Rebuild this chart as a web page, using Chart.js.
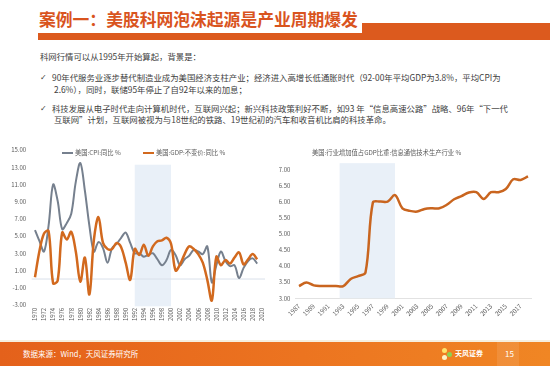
<!DOCTYPE html>
<html lang="zh-CN">
<head>
<meta charset="utf-8">
<script src="https://cdn.jsdelivr.net/npm/chart.js@4.4.1/dist/chart.umd.min.js"></script>
<style>
body{margin:0;width:550px;height:366px;overflow:hidden;background:#fff;font-family:"Noto Sans CJK SC","Noto Sans",sans-serif;position:relative;}
.abs{position:absolute;white-space:nowrap;}
#title{left:39px;top:9px;font-size:16.8px;font-weight:bold;color:#d9541e;line-height:20px;}
.bar{position:absolute;background:#dc5a1e;}
.txt{font-size:8.4px;color:#404040;line-height:11px;}
.chk{font-size:8px;color:#404040;line-height:11px;font-family:"DejaVu Sans",sans-serif;}
.lg{font-size:6.3px;color:#595959;line-height:8px;}
.lgline{position:absolute;height:2px;}
#footer{position:absolute;left:0;top:342px;width:550px;height:24px;background:linear-gradient(90deg,#e4611b,#ec7420 55%,#f08624);}
canvas{position:absolute;}
</style>
</head>
<body>
<div id="title" class="abs">案例一：美股科网泡沫起源是产业周期爆发</div>
<div class="bar" style="left:38px;top:33px;width:512px;height:7px;"></div>
<div class="bar" style="left:362px;top:23px;width:188px;height:17px;"></div>

<div class="abs txt" style="left:40px;top:51px;">科网行情可以从1995年开始算起，背景是：</div>
<div class="abs chk" style="left:40px;top:72px;">✓</div>
<div class="abs txt" style="left:52px;top:72px;">90年代服务业逐步替代制造业成为美国经济支柱产业；经济进入高增长低通胀时代（92-00年平均GDP为3.8%，平均CPI为</div>
<div class="abs txt" style="left:54px;top:84px;">2.6%），同时，联储95年停止了自92年以来的加息；</div>
<div class="abs chk" style="left:40px;top:103px;">✓</div>
<div class="abs txt" style="left:52px;top:103px;">科技发展从电子时代走向计算机时代，互联网兴起；新兴科技政策利好不断，如93 年“信息高速公路”战略、96年“下一代</div>
<div class="abs txt" style="left:54px;top:114px;">互联网”计划，互联网被视为与18世纪的铁路、19世纪初的汽车和收音机比肩的科技革命。</div>

<canvas id="leftChart" width="272" height="190" style="left:0;top:140px;"></canvas>
<canvas id="rightChart" width="278" height="190" style="left:272px;top:140px;"></canvas>

<!-- legends / title for charts -->
<div class="lgline" style="left:62px;top:152px;width:11px;background:#76808e;"></div>
<div class="abs lg" style="left:75px;top:149px;">美国:CPI:同比 %</div>
<div class="lgline" style="left:143px;top:152px;width:11px;background:#d2691e;"></div>
<div class="abs lg" style="left:156px;top:149px;">美国:GDP:不变价:同比 %</div>
<div class="abs lg" style="left:312px;top:149px;">美国:行业增加值占GDP比重:信息通信技术生产行业 %</div>

<div style="position:absolute;left:0;top:340px;width:550px;height:2px;background:#f6efdf;"></div>
<div id="footer"></div>
<div class="abs" style="left:23px;top:349px;font-size:7.5px;line-height:10px;color:#fff;">数据来源：Wind，天风证券研究所</div>
<div style="position:absolute;left:442px;top:348px;width:5px;height:5px;border-radius:50%;background:#ffe36a;"></div>
<div style="position:absolute;left:447px;top:352px;width:5px;height:5px;border-radius:50%;background:#8fd14f;"></div>
<div style="position:absolute;left:442px;top:355px;width:5px;height:5px;border-radius:50%;background:#fff3c4;"></div>
<div class="abs" style="left:455px;top:349px;font-size:7px;line-height:9px;color:#fff;font-weight:bold;">天风证券</div>
<div style="position:absolute;left:497px;top:342px;width:22px;height:24px;background:rgba(255,255,255,0.10);"></div>
<div class="abs" style="left:505px;top:349px;font-size:8px;line-height:10px;color:#fff;">15</div>

<script>
// 美国 CPI / GDP 同比（%），1970-2020
const usYears = ['1970','1971','1972','1973','1974','1975','1976','1977','1978','1979',
  '1980','1981','1982','1983','1984','1985','1986','1987','1988','1989',
  '1990','1991','1992','1993','1994','1995','1996','1997','1998','1999',
  '2000','2001','2002','2003','2004','2005','2006','2007','2008','2009',
  '2010','2011','2012','2013','2014','2015','2016','2017','2018','2019','2020'];
const cpiValues = [5.7,4.4,3.2,6.2,11.0,9.1,5.8,6.5,7.6,11.3,
  13.5,10.3,6.2,3.2,4.3,3.6,1.9,3.6,4.1,4.8,
  5.4,4.2,3.0,3.0,2.6,2.8,3.0,2.3,1.6,2.2,
  3.4,2.8,1.6,2.3,2.7,3.4,3.2,2.9,3.8,-0.4,
  1.6,3.2,2.1,1.5,1.6,0.1,1.3,2.1,2.4,1.8,null];
const gdpValues = [0.2,3.3,5.3,5.6,-0.5,-0.2,5.4,4.6,5.5,3.2,
  -0.3,2.5,-1.8,4.6,7.2,4.2,3.5,3.5,4.2,3.7,
  1.9,-0.1,3.5,2.8,4.0,2.7,3.8,4.4,4.5,4.8,
  4.1,1.0,1.7,2.9,3.8,3.5,2.9,1.9,-0.1,-2.5,
  2.6,1.6,2.2,1.8,2.5,3.1,1.7,2.3,2.9,2.3,null];

// 信息通信技术生产行业增加值占GDP比重（%），1987-2018
const ictYears = ['1987','1988','1989','1990','1991','1992','1993','1994','1995','1996',
  '1997','1998','1999','2000','2001','2002','2003','2004','2005','2006',
  '2007','2008','2009','2010','2011','2012','2013','2014','2015','2016','2017','2018'];
const ictValues = [3.38,3.49,3.40,3.38,3.38,3.38,3.38,3.60,3.69,3.80,
  5.97,6.00,6.00,6.20,5.79,5.71,5.69,5.77,5.79,5.79,
  5.90,6.07,6.17,6.28,6.29,6.08,6.29,6.29,6.39,6.69,6.67,6.78];

// 阴影区间（年份）
const leftShade = [1992, 2000];
const rightShade = [1992.5, 2000];

Chart.defaults.font.family = '"Noto Sans CJK SC", "Noto Sans", sans-serif';
Chart.defaults.color = '#595959';

// draws the light blue period band (and the zero line on the left chart)
const shadePlugin = {
  id: 'shade',
  beforeDatasetsDraw(chart, args, opts) {
    const { ctx, chartArea, scales } = chart;
    const x = scales.x, y = scales.y;
    const x0 = x.getPixelForValue(opts.from - opts.first);
    const x1 = x.getPixelForValue(opts.to - opts.first);
    const top = y.getPixelForValue(opts.top);
    ctx.save();
    ctx.fillStyle = '#e9f0f8';
    ctx.fillRect(x0, top, x1 - x0, chartArea.bottom + opts.extra - top);
    if (opts.zero) {
      const y0 = y.getPixelForValue(0);
      ctx.strokeStyle = '#d9e0ea';
      ctx.lineWidth = 1;
      ctx.beginPath();
      ctx.moveTo(chartArea.left - 1, y0);
      ctx.lineTo(chartArea.right + 1, y0);
      ctx.stroke();
    }
    ctx.restore();
  }
};

new Chart(document.getElementById('leftChart'), {
  type: 'line',
  data: {
    labels: usYears,
    datasets: [
      { label: '美国:CPI:同比 %', data: cpiValues, borderColor: '#76808e', borderWidth: 2, order: 2 },
      { label: '美国:GDP:不变价:同比 %', data: gdpValues, borderColor: '#d2691e', borderWidth: 2.5, order: 1 }
    ]
  },
  options: {
    responsive: false,
    animation: false,
    devicePixelRatio: 1,
    layout: { padding: { top: 10, right: 6.7, left: 0, bottom: 0 } },
    elements: { point: { radius: 0 }, line: { tension: 0.35 } },
    plugins: {
      legend: { display: false },
      tooltip: { enabled: false },
      shade: { first: 1970, from: leftShade[0], to: leftShade[1], top: 13.3, extra: 1.5, zero: true }
    },
    scales: {
      x: {
        offset: true,
        grid: { display: false, drawTicks: false },
        border: { display: false },
        ticks: {
          autoSkip: false, minRotation: 90, maxRotation: 90, padding: 3,
          font: { size: 6 },
          callback: (v, i) => (i % 2 === 0 ? usYears[i] : '')
        },
        afterFit: s => { s.height = 25.2; }
      },
      y: {
        min: -3, max: 15,
        grid: { display: false, drawTicks: false },
        border: { display: false },
        ticks: { stepSize: 2, padding: 6.5, font: { size: 6 }, callback: v => v.toFixed(2) },
        afterFit: s => { s.width = 32.7; }
      }
    }
  },
  plugins: [shadePlugin]
});

new Chart(document.getElementById('rightChart'), {
  type: 'line',
  data: {
    labels: ictYears,
    datasets: [
      { label: '美国:行业增加值占GDP比重:信息通信技术生产行业 %', data: ictValues, borderColor: '#c9651f', borderWidth: 2.5 }
    ]
  },
  options: {
    responsive: false,
    animation: false,
    devicePixelRatio: 1,
    layout: { padding: { top: 29.3, right: 18.3, left: 0, bottom: 0 } },
    elements: { point: { radius: 0 }, line: { tension: 0.35 } },
    plugins: {
      legend: { display: false },
      tooltip: { enabled: false },
      shade: { first: 1987, from: rightShade[0], to: rightShade[1], top: 7.19, extra: 0, zero: false }
    },
    scales: {
      x: {
        offset: true,
        grid: { display: false, drawTicks: false },
        border: { display: true, color: '#e2e2e2', width: 1 },
        ticks: {
          autoSkip: false, minRotation: 45, maxRotation: 45, padding: 4,
          font: { size: 6.3 },
          callback: (v, i) => (i % 2 === 0 ? ictYears[i] : '')
        },
        afterFit: s => { s.height = 31.7; }
      },
      y: {
        min: 3, max: 7,
        grid: { display: false, drawTicks: false },
        border: { display: false },
        ticks: { stepSize: 0.5, padding: 5, font: { size: 6 }, callback: v => v.toFixed(2) },
        afterFit: s => { s.width = 23.3; }
      }
    }
  },
  plugins: [shadePlugin]
});
</script>
</body>
</html>
